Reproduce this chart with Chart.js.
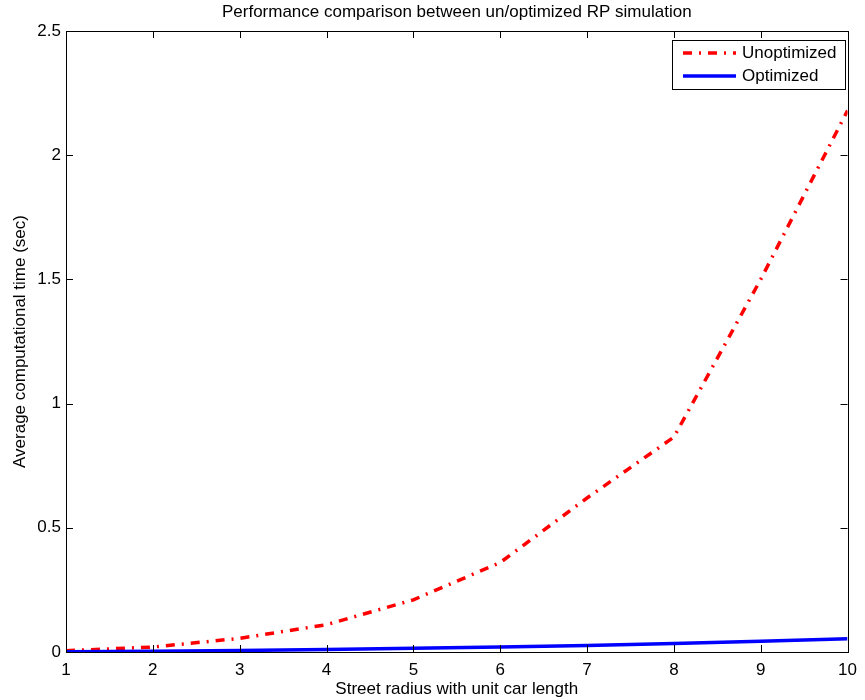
<!DOCTYPE html>
<html>
<head>
<meta charset="utf-8">
<script src="https://cdn.jsdelivr.net/npm/chart.js@4.4.1/dist/chart.umd.min.js"></script>
<style>
  html, body { margin: 0; padding: 0; background: #fff; }
  #wrap { width: 865px; height: 700px; }
</style>
</head>
<body>
<div id="wrap"><canvas id="myChart" width="865" height="700"></canvas></div>
<script>
// dados
const raio = [1, 2, 3, 4, 5, 6, 7, 8, 9, 10];
const naoOtimizado = [0.005, 0.02, 0.055, 0.11, 0.21, 0.36, 0.62, 0.865, 1.5, 2.18];
const otimizado = [0.001, 0.003, 0.006, 0.01, 0.015, 0.02, 0.026, 0.034, 0.043, 0.053];
const ticksY = [0, 0.5, 1, 1.5, 2, 2.5];
const ticksX = [1, 2, 3, 4, 5, 6, 7, 8, 9, 10];

const fonte = 'Liberation Sans, Arial, Helvetica, sans-serif';
const titulo = 'Performance comparison between un/optimized RP simulation';
const tituloX = 'Street radius with unit car length';
const tituloY = 'Average computational time (sec)';

function pontos(ys) {
    return raio.map((x, i) => ({ x: x, y: ys[i] }));
}

// moldura, ticks para dentro, textos e legenda
const estiloMatlab = {
    id: 'estiloMatlab',
    afterDraw(chart) {
        const ctx = chart.ctx;
        const a = chart.chartArea;
        const sx = chart.scales.x;
        const sy = chart.scales.y;
        ctx.save();
        ctx.strokeStyle = '#000';
        ctx.lineWidth = 1;
        ctx.strokeRect(Math.round(a.left) + 0.5, Math.round(a.top) + 0.5,
            Math.round(a.right - a.left), Math.round(a.bottom - a.top));
        ctx.beginPath();
        ticksX.forEach(v => {
            const px = Math.round(sx.getPixelForValue(v)) + 0.5;
            ctx.moveTo(px, a.bottom); ctx.lineTo(px, a.bottom - 7);
            ctx.moveTo(px, a.top); ctx.lineTo(px, a.top + 7);
        });
        ticksY.forEach(v => {
            const py = Math.round(sy.getPixelForValue(v)) + 0.5;
            ctx.moveTo(a.left, py); ctx.lineTo(a.left + 7, py);
            ctx.moveTo(a.right, py); ctx.lineTo(a.right - 7, py);
        });
        ctx.stroke();

        // textos
        ctx.fillStyle = '#000';
        ctx.font = '17px ' + fonte;
        ctx.textAlign = 'center';
        ctx.textBaseline = 'middle';
        const cx = (a.left + a.right) / 2;
        ctx.fillText(titulo, cx, 12);
        ctx.fillText(tituloX, cx, 689);
        ctx.save();
        ctx.translate(20, (a.top + a.bottom) / 2);
        ctx.rotate(-Math.PI / 2);
        ctx.fillText(tituloY, 0, 0);
        ctx.restore();

        // legenda
        const lx = 672, ly = 40, lw = 173, lh = 49;
        ctx.fillStyle = '#fff';
        ctx.fillRect(lx, ly, lw, lh);
        ctx.strokeStyle = '#000';
        ctx.lineWidth = 1;
        ctx.strokeRect(lx + 0.5, ly + 0.5, lw, lh);
        chart.data.datasets.forEach((ds, i) => {
            const y = ly + 13 + i * 23;
            ctx.beginPath();
            ctx.strokeStyle = ds.borderColor;
            ctx.lineWidth = ds.borderWidth;
            ctx.setLineDash(ds.borderDash || []);
            ctx.moveTo(lx + 11, y);
            ctx.lineTo(lx + 64, y);
            ctx.stroke();
            ctx.setLineDash([]);
            ctx.fillStyle = '#000';
            ctx.textAlign = 'left';
            ctx.fillText(ds.label, lx + 70, y);
        });
        ctx.restore();
    }
};

new Chart(document.getElementById('myChart'), {
    type: 'line',
    data: {
        datasets: [{
            label: 'Unoptimized',
            data: pontos(naoOtimizado),
            borderColor: '#ff0000',
            borderWidth: 3.5,
            borderDash: [9, 7, 2, 7],
            pointRadius: 0,
            fill: false,
            order: 2
        }, {
            label: 'Optimized',
            data: pontos(otimizado),
            borderColor: '#0000ff',
            borderWidth: 3.5,
            pointRadius: 0,
            fill: false,
            order: 1
        }]
    },
    options: {
        responsive: false,
        animation: false,
        devicePixelRatio: 1,
        layout: { padding: { left: 0, top: 31, right: 12, bottom: 0 } },
        plugins: {
            legend: { display: false },
            title: { display: false },
            tooltip: { enabled: false }
        },
        scales: {
            x: {
                type: 'linear',
                min: 1,
                max: 10,
                afterFit: s => { s.height = 48; },
                afterBuildTicks: s => { s.ticks = ticksX.map(v => ({ value: v })); },
                grid: { display: false, drawTicks: false },
                border: { display: false },
                ticks: { color: '#000', padding: 8, maxRotation: 0, font: { size: 17, family: fonte },
                         callback: v => String(v) }
            },
            y: {
                min: 0,
                max: 2.5,
                afterFit: s => { s.width = 66; },
                afterBuildTicks: s => { s.ticks = ticksY.map(v => ({ value: v })); },
                grid: { display: false, drawTicks: false },
                border: { display: false },
                ticks: { color: '#000', padding: 5, font: { size: 17, family: fonte },
                         callback: v => String(v) }
            }
        }
    },
    plugins: [estiloMatlab]
});
</script>
</body>
</html>
